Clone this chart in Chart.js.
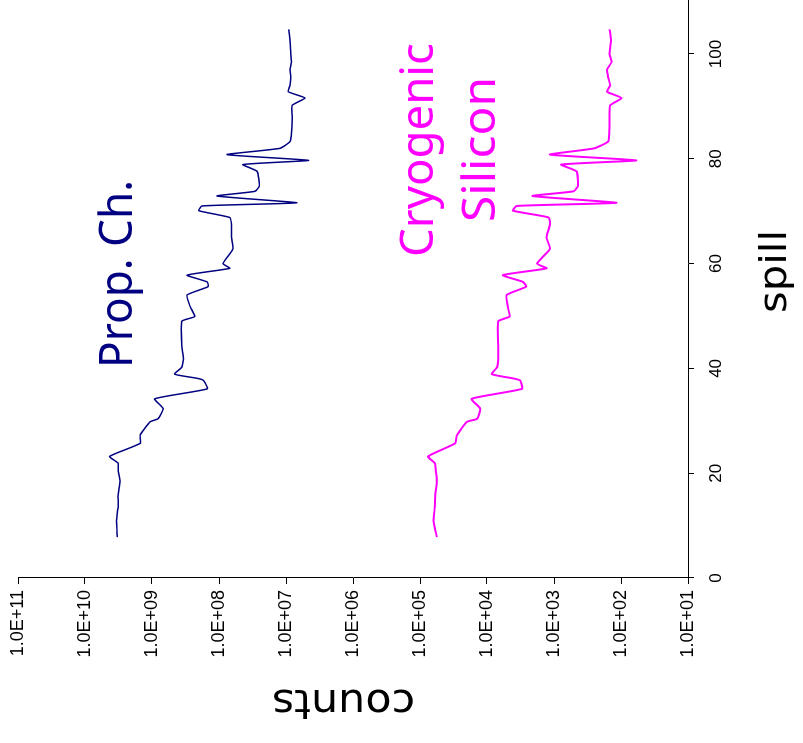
<!DOCTYPE html>
<html>
<head>
<meta charset="utf-8">
<script src="https://cdn.jsdelivr.net/npm/chart.js@4/dist/chart.umd.min.js"></script>
<style>
  html, body { margin: 0; padding: 0; background: #fff; }
  body { width: 803px; height: 743px; overflow: hidden; position: relative; }
  /* the chart is laid out upright and then turned a quarter turn to the left */
  #wrap {
    position: absolute; left: 0; top: 0;
    width: 820px; height: 803px;
    transform-origin: 0 0;
    transform: translate(0px, 743px) rotate(-90deg);
  }
  canvas { display: block; }
</style>
</head>
<body>
<div id="wrap"><canvas id="c" width="820" height="803"></canvas></div>
<script>
// spill number of each reading
const spill = [7.8, 10.9, 13.5, 16.0, 18.5, 20.4, 21.9, 23.2, 25.7, 27.3, 29.8, 30.4, 32.3, 34.2,
  36.1, 37.7, 38.1, 38.9, 40.2, 41.8, 44.3, 49.0, 49.9, 51.8, 54.0, 55.6, 56.5, 57.8,
  59.1, 60.0, 62.8, 65.0, 67.5, 68.8, 70.1, 71.0, 71.6, 72.9, 73.8, 74.8, 77.6, 78.9,
  79.7, 80.8, 82.0, 83.3, 85.0, 88.0, 90.2, 91.6, 92.8, 94.0, 95.5, 97.0, 98.5, 100.0,
  102.5, 104.7];

// proportional chamber counts
const propCh = [3.3e9, 3.4e9, 3.2e9, 3.2e9, 3.0e9, 3.2e9, 3.2e9, 4.3e9, 1.5e9, 1.5e9, 1.07e9, 8.1e8, 6.8e8, 9.1e8,
  1.5e8, 1.7e8, 2.1e8, 4.6e8, 3.6e8, 3.4e8, 3.6e8, 3.6e8, 2.3e8, 2.7e8, 3.0e8, 1.45e8, 1.5e8, 3.0e8,
  6.9e7, 8.7e7, 6.2e7, 6.5e7, 6.5e7, 6.9e7, 2.0e8, 1.8e8, 6.9e6, 1.07e8, 2.9e7, 2.5e7, 2.7e7, 4.4e7,
  4.6e6, 7.6e7, 1.23e7, 8.7e6, 8.3e6, 8.1e6, 8.1e6, 5.2e6, 9.3e6, 8.7e6, 8.5e6, 8.7e6, 8.3e6, 8.5e6,
  8.7e6, 9.1e6];

// cryogenic silicon detector counts
const cryoSi = [5.6e4, 6.3e4, 6.0e4, 5.9e4, 5.6e4, 5.8e4, 6.0e4, 7.6e4, 3.0e4, 2.8e4, 2.0e4, 1.4e4, 1.26e4, 1.7e4,
  3.0e3, 3.2e3, 4.1e3, 8.5e3, 7.1e3, 6.8e3, 6.8e3, 6.8e3, 4.6e3, 4.9e3, 5.1e3, 2.6e3, 2.9e3, 5.8e3,
  1.29e3, 1.8e3, 1.15e3, 1.29e3, 1.15e3, 1.2e3, 4.1e3, 3.6e3, 117, 2.1e3, 510, 440, 460, 780,
  59, 1.15e3, 250, 155, 150, 148, 145, 98, 162, 145, 155, 162, 138, 148,
  141, 148];

// axis ticks
const spillTicks = [0, 20, 40, 60, 80, 100, 120];
const countExponents = [1, 2, 3, 4, 5, 6, 7, 8, 9, 10, 11];

const seriesNames = ['Prop. Ch.', 'Cryogenic Silicon'];
const axisTitles = { x: 'spill', y: 'counts' };

function fmtPow(v) {
  const e = Math.round(Math.log10(v));
  return '1.0E+' + String(e).padStart(2, '0');
}

// free text: axis titles and the two series names
const textItems = [
  { text: axisTitles.y, x: 343.5, y: 53, rot: -Math.PI / 2, w: 143, font: '40px "DejaVu Sans"', color: '#000' },
  { text: axisTitles.x, x: 471.5, y: 786, rot: 0, w: 83, font: '38px "DejaVu Sans"', color: '#000' },
  { text: seriesNames[0], x: 469, y: 132, rot: 0, w: 188, font: '46px "Noto Sans"', color: '#000080' },
  { text: 'Cryogenic', x: 593, y: 433, rot: 0, w: 214, font: '45px "Noto Sans"', color: '#FF00FF' },
  { text: 'Silicon', x: 593.5, y: 495, rot: 0, w: 145, font: '45px "Noto Sans"', color: '#FF00FF' }
];

const textPlugin = {
  id: 'freeText',
  afterDraw(chart) {
    const ctx = chart.ctx;
    textItems.forEach(t => {
      ctx.save();
      ctx.font = t.font;
      ctx.fillStyle = t.color;
      ctx.textAlign = 'center';
      ctx.textBaseline = 'alphabetic';
      const m = ctx.measureText(t.text).width;
      ctx.translate(t.rot ? t.y : t.x, t.rot ? t.x : t.y);
      ctx.rotate(t.rot);
      ctx.scale(t.w / m, 1);
      ctx.fillText(t.text, 0, 0);
      ctx.restore();
    });
  }
};

const axisStyle = {
  grid: { display: true, drawOnChartArea: false, drawTicks: true, tickLength: 6, color: '#000', lineWidth: 1 },
  border: { display: true, color: '#000', width: 1 }
};

const tickFont = size => ({ family: "'Liberation Sans', Arial, sans-serif", size });

new Chart(document.getElementById('c'), {
  type: 'line',
  data: {
    datasets: [
      {
        label: seriesNames[0],
        data: spill.map((s, i) => ({ x: s, y: propCh[i] })),
        borderColor: '#000080',
        borderWidth: 1.5,
        pointRadius: 0,
        fill: false,
        tension: 0.15
      },
      {
        label: seriesNames[1],
        data: spill.map((s, i) => ({ x: s, y: cryoSi[i] })),
        borderColor: '#FF00FF',
        borderWidth: 2,
        pointRadius: 0,
        fill: false,
        tension: 0.15
      }
    ]
  },
  options: {
    responsive: false,
    animation: false,
    devicePixelRatio: 1,
    layout: { padding: { left: 0, top: 18, right: 19, bottom: 0 } },
    plugins: { legend: { display: false }, tooltip: { enabled: false } },
    scales: {
      x: {
        type: 'linear',
        position: 'bottom',
        min: 0,
        max: 120,
        afterBuildTicks: s => { s.ticks = spillTicks.map(v => ({ value: v })); },
        afterFit: s => { s.height = 115; },
        ticks: { font: tickFont(17), color: '#000', padding: 12, maxRotation: 0 },
        ...axisStyle
      },
      y: {
        type: 'logarithmic',
        position: 'left',
        min: 10,
        max: 1e11,
        afterBuildTicks: s => { s.ticks = countExponents.map(e => ({ value: Math.pow(10, e) })); },
        afterFit: s => { s.width = 165; },
        ticks: { font: tickFont(18), color: '#000', padding: 6, callback: v => fmtPow(v) },
        ...axisStyle
      }
    }
  },
  plugins: [textPlugin]
});
</script>
</body>
</html>
